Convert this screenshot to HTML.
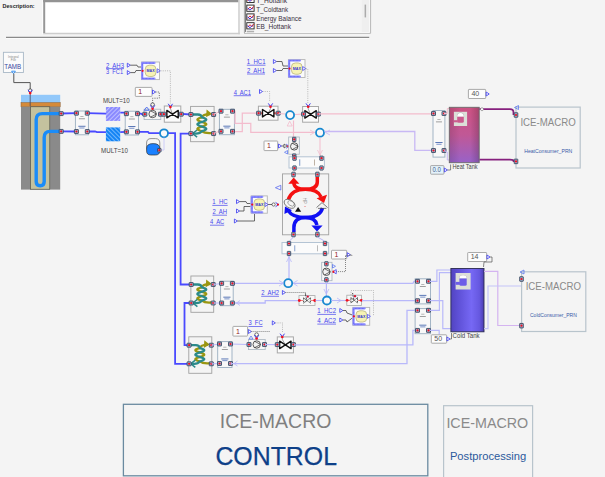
<!DOCTYPE html><html><head><meta charset="utf-8"><style>
html,body{margin:0;padding:0;background:#f4f4f4;}
body{width:605px;height:477px;overflow:hidden;position:relative;font-family:"Liberation Sans",sans-serif;}
svg{position:absolute;left:0;top:0;}
text{font-family:"Liberation Sans",sans-serif;white-space:pre;}
</style></head><body>
<svg width="605" height="477" viewBox="0 0 605 477">
<rect x="0" y="0" width="605" height="477" fill="#f4f4f4"/>
<text x="2.6" y="8.2" font-size="5.9" font-weight="bold" fill="#222" textLength="32" lengthAdjust="spacingAndGlyphs">Description:</text>
<rect x="43" y="-1" width="197" height="35" fill="#ffffff"/>
<path d="M42.5,0 L42.5,34" stroke="#fcfcfc" stroke-width="1"/>
<path d="M239,0 L239,34.2" stroke="#cdcdcd" stroke-width="1.5"/>
<path d="M43.2,33.5 L239.8,33.5" stroke="#cdcdcd" stroke-width="1.4"/>
<path d="M44.2,33 L44.2,0" stroke="#979797" stroke-width="2"/>
<path d="M43.2,1.1 L238.2,1.1" stroke="#939393" stroke-width="2.2"/>
<rect x="244" y="-1" width="126.5" height="34" fill="#f4f4f4"/>
<path d="M244.4,33 L244.4,-1" fill="none" stroke="#a8a8a8" stroke-width="1"/>
<path d="M245.5,32 L245.5,-1" fill="none" stroke="#707070" stroke-width="0.9"/>
<path d="M244,33.3 L370.6,33.3 L370.6,-1" fill="none" stroke="#b8b8b8" stroke-width="1"/>
<path d="M245.5,32.3 L369.5,32.3 L369.5,-1" fill="none" stroke="#fff" stroke-width="0.8"/>
<rect x="361.8" y="-1" width="7.5" height="33" fill="#efefef"/>
<rect x="364.6" y="4.6" width="1.5" height="12.8" fill="#ababab"/>
<rect x="246.8" y="-3.7" width="7.3" height="6.2" fill="#fff" stroke="#222" stroke-width="0.9"/>
<path d="M247.5,0.8 L250,-1.7 L252,0.3 L253.6,-2.5" fill="none" stroke="#e02020" stroke-width="1"/>
<path d="M247.5,-0.7 L250,1.3 L252.5,-1.1" fill="none" stroke="#2020d0" stroke-width="0.9"/>
<text x="256.2" y="2.9" font-size="7.4" fill="#3a3040" textLength="31" lengthAdjust="spacingAndGlyphs">T_Hottank</text>
<rect x="246.8" y="5.1" width="7.3" height="6.2" fill="#fff" stroke="#222" stroke-width="0.9"/>
<path d="M247.5,9.6 L250,7.1 L252,9.1 L253.6,6.3" fill="none" stroke="#e02020" stroke-width="1"/>
<path d="M247.5,8.1 L250,10.1 L252.5,7.7" fill="none" stroke="#2020d0" stroke-width="0.9"/>
<text x="256.2" y="11.7" font-size="7.4" fill="#3a3040" textLength="32" lengthAdjust="spacingAndGlyphs">T_Coldtank</text>
<rect x="246.8" y="13.9" width="7.3" height="6.2" fill="#fff" stroke="#222" stroke-width="0.9"/>
<path d="M247.5,18.4 L250,15.9 L252,17.9 L253.6,15.1" fill="none" stroke="#e02020" stroke-width="1"/>
<path d="M247.5,16.9 L250,18.9 L252.5,16.5" fill="none" stroke="#2020d0" stroke-width="0.9"/>
<text x="256.2" y="20.5" font-size="7.4" fill="#3a3040" textLength="45.3" lengthAdjust="spacingAndGlyphs">Energy Balance</text>
<rect x="246.8" y="22.7" width="7.3" height="6.2" fill="#fff" stroke="#222" stroke-width="0.9"/>
<path d="M247.5,27.2 L250,24.7 L252,26.7 L253.6,23.9" fill="none" stroke="#e02020" stroke-width="1"/>
<path d="M247.5,25.7 L250,27.7 L252.5,25.3" fill="none" stroke="#2020d0" stroke-width="0.9"/>
<text x="256.2" y="29.3" font-size="7.4" fill="#3a3040" textLength="34.7" lengthAdjust="spacingAndGlyphs">EB_Hottank</text>
<rect x="246.8" y="30.8" width="7.3" height="1.5" fill="#b0b0b0"/>
<path d="M6,37.3 L369.2,37.3" stroke="#8a8a8a" stroke-width="1.3"/>
<path d="M6,38.6 L369.2,38.6" stroke="#fcfcfc" stroke-width="0.8"/>
<rect x="3.4" y="52.3" width="20" height="20.2" fill="#fbfbfb" stroke="#a8b8c6" stroke-width="0.9"/>
<text x="13.4" y="57.6" font-size="3.2" fill="#888" text-anchor="middle">Integral</text>
<text x="13.4" y="60.8" font-size="3.2" fill="#888" text-anchor="middle">File</text>
<text x="4.3" y="68.7" font-size="7" fill="#3a48a0" textLength="16.9" lengthAdjust="spacingAndGlyphs">TAMB</text>
<path d="M11.6,71.2 L15.4,71.2 L13.5,73.6 Z" fill="#fff" stroke="#2a8af0" stroke-width="0.9"/>
<path d="M13.8,73.6 L13.8,82.6 L30.2,82.6 L30.2,89.5" fill="none" stroke="#555" stroke-width="1.0"/>
<rect x="21" y="94.8" width="39.2" height="8" fill="#92c8fa"/>
<rect x="21" y="102.6" width="39.2" height="4.2" fill="#d58a3a" stroke="#8a5a2a" stroke-width="0.5"/>
<rect x="21" y="106.8" width="39.2" height="82.8" fill="#8a8a8a"/>
<rect x="30.6" y="106.8" width="19.2" height="82.4" fill="#c4c29e" stroke="#4a4a40" stroke-width="0.6"/>
<path d="M30.2,91 L30.2,106" stroke="#445" stroke-width="0.8"/>
<circle cx="30.2" cy="90.6" r="1.7" fill="#fff" stroke="#333" stroke-width="0.7"/>
<path d="M28.0,89.8 L30.2,92.89999999999999 L32.4,89.8" fill="none" stroke="#3a3af0" stroke-width="1"/>
<circle cx="30.2" cy="93.1" r="1.3" fill="#f01020"/>
<path d="M60,113.6 L42.2,113.6 Q36.2,113.6 36.2,119.6 L36.2,181.6 Q36.2,185.8 40.2,185.8 Q44.2,185.8 44.2,181.6 L44.2,137.4 Q44.2,131.4 50.2,131.4 L60,131.4" fill="none" stroke="#1a8cf8" stroke-width="3.4"/>
<path d="M61,113.5 L76.4,113.2" fill="none" stroke="#4a4aff" stroke-width="1.8"/>
<path d="M61,131.4 L76.4,131.5" fill="none" stroke="#4a4aff" stroke-width="1.8"/>
<path d="M87.3,113.2 L106,113.6" fill="none" stroke="#4a4aff" stroke-width="1.8"/>
<path d="M87.3,131.5 L95,131.5 L97,132.2 L106,132.2" fill="none" stroke="#4a4aff" stroke-width="1.8"/>
<path d="M120.2,112.7 L124,112.7 L126.4,113.7" fill="none" stroke="#4a4aff" stroke-width="1.8"/>
<path d="M120.2,132.2 L126.4,131.8" fill="none" stroke="#4a4aff" stroke-width="1.8"/>
<path d="M137.5,113.7 L141,113.7 L144.5,115.5" fill="none" stroke="#4a4aff" stroke-width="1.8"/>
<path d="M160.5,114 L164.5,114" fill="none" stroke="#4a4aff" stroke-width="1.8"/>
<path d="M181.5,113.8 L190.8,114.5" fill="none" stroke="#4a4aff" stroke-width="1.8"/>
<path d="M137.5,131.8 L148,131.8 L149,133.2 L160,133.2" fill="none" stroke="#4a4aff" stroke-width="1.8"/>
<path d="M168,133.2 L175.1,133.2 L175.1,363.8 L189,363.8" fill="none" stroke="#4a4aff" stroke-width="1.8"/>
<path d="M190.8,133.6 L180.6,133.6 L180.6,284.5 L191,284.5" fill="none" stroke="#4a4aff" stroke-width="1.8"/>
<path d="M191,303 L184.5,303 L184.5,345.2 L189,345.2" fill="none" stroke="#4a4aff" stroke-width="1.8"/>
<rect x="59.20" y="111.65" width="4.0" height="3.9" rx="0.3" fill="#a4b6d2" stroke="#33415a" stroke-width="0.85"/>
<circle cx="61.20" cy="113.60" r="1.1" fill="#f01020"/>
<rect x="59.20" y="129.45" width="4.0" height="3.9" rx="0.3" fill="#a4b6d2" stroke="#33415a" stroke-width="0.85"/>
<circle cx="61.20" cy="131.40" r="1.1" fill="#f01020"/>
<rect x="75.4" y="111" width="13.0" height="23.80000000000001" fill="#f8f8f8" stroke="#9aaec0" stroke-width="0.9"/>
<rect x="80.30000000000001" y="116.20" width="3.2" height="0.7" fill="#999"/>
<rect x="78.9" y="118.40" width="6" height="0.8" fill="#888"/>
<rect x="78.30000000000001" y="125.80" width="7.2" height="0.9" fill="#4a6ab0"/>
<rect x="79.30000000000001" y="127.60" width="5.2" height="0.8" fill="#5a7ac0"/>
<rect x="74.40" y="111.25" width="4.0" height="3.9" rx="0.3" fill="#a4b6d2" stroke="#33415a" stroke-width="0.85"/>
<circle cx="76.40" cy="113.20" r="1.1" fill="#f01020"/>
<rect x="85.30" y="111.25" width="4.0" height="3.9" rx="0.3" fill="#a4b6d2" stroke="#33415a" stroke-width="0.85"/>
<circle cx="87.30" cy="113.20" r="1.1" fill="#f01020"/>
<rect x="74.40" y="129.55" width="4.0" height="3.9" rx="0.3" fill="#a4b6d2" stroke="#33415a" stroke-width="0.85"/>
<circle cx="76.40" cy="131.50" r="1.1" fill="#f01020"/>
<rect x="85.30" y="129.55" width="4.0" height="3.9" rx="0.3" fill="#a4b6d2" stroke="#33415a" stroke-width="0.85"/>
<circle cx="87.30" cy="131.50" r="1.1" fill="#f01020"/>
<defs><pattern id="h1" width="3" height="3" patternUnits="userSpaceOnUse" patternTransform="rotate(-45)"><rect width="3" height="3" fill="#8a8aff"/><rect width="3" height="0.9" fill="#c4c4ff"/></pattern>
<pattern id="h2" width="3" height="3" patternUnits="userSpaceOnUse" patternTransform="rotate(45)"><rect width="3" height="3" fill="#1484f4"/><rect width="3" height="0.9" fill="#7cbcff"/></pattern></defs>
<rect x="105.9" y="107" width="14.3" height="13.9" fill="url(#h1)"/>
<rect x="105.9" y="127.4" width="14.3" height="13.9" fill="url(#h2)"/>
<text x="102.9" y="102.9" font-size="6.8" fill="#444" textLength="26.8" lengthAdjust="spacingAndGlyphs">MULT=10</text>
<text x="101.1" y="153" font-size="6.8" fill="#444" textLength="26.9" lengthAdjust="spacingAndGlyphs">MULT=10</text>
<rect x="125.2" y="111.2" width="13.299999999999997" height="23.799999999999997" fill="#f8f8f8" stroke="#9aaec0" stroke-width="0.9"/>
<rect x="130.25" y="116.40" width="3.2" height="0.7" fill="#999"/>
<rect x="128.85" y="118.60" width="6" height="0.8" fill="#888"/>
<rect x="128.25" y="126.00" width="7.2" height="0.9" fill="#4a6ab0"/>
<rect x="129.25" y="127.80" width="5.2" height="0.8" fill="#5a7ac0"/>
<rect x="124.40" y="111.75" width="4.0" height="3.9" rx="0.3" fill="#a4b6d2" stroke="#33415a" stroke-width="0.85"/>
<circle cx="126.40" cy="113.70" r="1.1" fill="#f01020"/>
<rect x="135.50" y="111.75" width="4.0" height="3.9" rx="0.3" fill="#a4b6d2" stroke="#33415a" stroke-width="0.85"/>
<circle cx="137.50" cy="113.70" r="1.1" fill="#f01020"/>
<rect x="124.40" y="129.85" width="4.0" height="3.9" rx="0.3" fill="#a4b6d2" stroke="#33415a" stroke-width="0.85"/>
<circle cx="126.40" cy="131.80" r="1.1" fill="#f01020"/>
<rect x="135.50" y="129.85" width="4.0" height="3.9" rx="0.3" fill="#a4b6d2" stroke="#33415a" stroke-width="0.85"/>
<circle cx="137.50" cy="131.80" r="1.1" fill="#f01020"/>
<text x="106" y="67.5" font-size="6.6" fill="#4646ee" text-anchor="start" textLength="18" lengthAdjust="spacingAndGlyphs">2  AH3</text>
<path d="M106,68.60 L124,68.60" stroke="#4646ee" stroke-width="0.7"/>
<text x="106" y="74.4" font-size="6.6" fill="#4646ee" text-anchor="start" textLength="17.1" lengthAdjust="spacingAndGlyphs">3  FC1</text>
<path d="M127.3,63.2 L130.3,65.2 L127.3,67.2 Z" fill="#fff" stroke="#4a4af0" stroke-width="0.9"/>
<path d="M127.3,70.6 L130.3,72.6 L127.3,74.6 Z" fill="#fff" stroke="#4a4af0" stroke-width="0.9"/>
<path d="M130.3,65.2 L137,65.2 L138,67 L141,67" fill="none" stroke="#444" stroke-width="0.8"/>
<path d="M130.3,72.6 L135,72.6 L136,70.5 L141,70.5" fill="none" stroke="#444" stroke-width="0.8"/>
<rect x="141.5" y="62.0" width="18" height="17.6" fill="#fbfbfb" stroke="#b4b4b4" stroke-width="0.9"/>
<path d="M154.5,62.900000000000006 L142.2,62.900000000000006 L142.2,78.7 L154.5,78.7" fill="none" stroke="#9090ff" stroke-width="2.2" stroke-linecap="round" stroke-linejoin="round"/>
<path d="M154,63.1 L142.4,63.1 L142.4,78.5 L154,78.5" fill="none" stroke="#3434e8" stroke-width="0.5" stroke-dasharray="0.8,0.6"/>
<rect x="145.2" y="65.20000000000002" width="10.8" height="11.3" rx="4" fill="#f7f3b4" stroke="#b0ac78" stroke-width="0.7"/>
<text x="150.6" y="72.4" font-size="4" fill="#3030d0" text-anchor="middle" font-weight="bold" textLength="8" lengthAdjust="spacingAndGlyphs">MAX</text>
<circle cx="142.6" cy="70.80000000000001" r="1.1" fill="#f01020"/>
<path d="M157.2,68.80000000000001 L160.2,70.80000000000001 L157.2,72.80000000000001 Z" fill="#fff" stroke="#5a5af0" stroke-width="0.9"/>
<path d="M160.5,70.8 L170.4,70.8 L170.4,103.5" fill="none" stroke="#aaa" stroke-width="0.8" stroke-dasharray="1,1.2"/>
<rect x="135.3" y="87.4" width="16.69999999999999" height="9.0" rx="0.6" fill="#fdfdfd" stroke="#a0a0a0" stroke-width="0.9"/>
<text x="138.3" y="94.10000000000001" font-size="7" fill="#902020">1</text>
<path d="M152.5,90 L155.5,92 L152.5,94 Z" fill="#fff" stroke="#4a4af0" stroke-width="0.9"/>
<path d="M155.5,92 L159.3,92 L159.3,98.2 L152.6,98.2 L152.6,102.8" fill="none" stroke="#444" stroke-width="0.8" stroke-dasharray="1,1.3"/>
<rect x="144.1" y="109.2" width="16.700000000000017" height="10.399999999999991" fill="#f6f6f6" stroke="#a8b4c0" stroke-width="0.8"/>
<circle cx="152.6" cy="114" r="3.7" fill="#f2f2f2" stroke="#333" stroke-width="0.8"/>
<path d="M150.6,110.8 L156.4,114 L150.6,117.2" fill="none" stroke="#333" stroke-width="0.7"/>
<rect x="142.80" y="112.25" width="4.0" height="3.9" rx="0.3" fill="#a4b6d2" stroke="#33415a" stroke-width="0.85"/>
<circle cx="144.80" cy="114.20" r="1.1" fill="#f01020"/>
<rect x="158.50" y="112.25" width="4.0" height="3.9" rx="0.3" fill="#a4b6d2" stroke="#33415a" stroke-width="0.85"/>
<circle cx="160.50" cy="114.20" r="1.1" fill="#f01020"/>
<path d="M144.2,110.3 L146.7,107 L149.3,110.3 Z" fill="none" stroke="#4a6af0" stroke-width="0.9"/>
<circle cx="152.6" cy="104.6" r="1.8" fill="none" stroke="#333" stroke-width="0.7"/>
<path d="M150.4,105.4 L152.6,108.5 L154.79999999999998,105.4" fill="none" stroke="#3a3af0" stroke-width="1"/>
<circle cx="152.6" cy="108.7" r="1.3" fill="#f01020"/>
<rect x="164.3" y="106" width="16.5" height="16.200000000000003" fill="#fbfbfb" stroke="#a8a8a8" stroke-width="1"/>
<path d="M165.10000000000002,114.1 L167.05,114.1 M178.05,114.1 L180.0,114.1" stroke="#f06060" stroke-width="2"/>
<path d="M170.4,106 L170.4,108.5 L172.55,114.1" fill="none" stroke="#666" stroke-width="0.6"/>
<path d="M166.85000000000002,110.39999999999999 L178.25,117.8 L178.25,110.39999999999999 L166.85000000000002,117.8 Z" fill="#fff" stroke="#111" stroke-width="1.4" stroke-linejoin="round"/>
<circle cx="172.55" cy="114.1" r="1" fill="#111"/>
<rect x="161.90" y="112.25" width="4.0" height="3.9" rx="0.3" fill="#a4b6d2" stroke="#33415a" stroke-width="0.85"/>
<circle cx="163.90" cy="114.20" r="1.1" fill="#f01020"/>
<rect x="179.20" y="112.25" width="4.0" height="3.9" rx="0.3" fill="#a4b6d2" stroke="#33415a" stroke-width="0.85"/>
<circle cx="181.20" cy="114.20" r="1.1" fill="#f01020"/>
<path d="M168.20000000000002,103.8 L170.4,106.89999999999999 L172.6,103.8" fill="none" stroke="#3a3af0" stroke-width="1"/>
<circle cx="170.4" cy="107.1" r="1.3" fill="#f01020"/>
<circle cx="164" cy="133.3" r="4.0" fill="#fafafa" stroke="#1888d0" stroke-width="1.8"/>
<path d="M164,137.5 L164,150 L159.5,150" fill="none" stroke="#c8c8f8" stroke-width="0.9"/>
<path d="M146.6,149 L146.6,143 Q146.6,138.6 151,138.6 L155.4,138.6 Q159.8,138.6 159.8,143 L159.8,149 Z" fill="#f6f6f6" stroke="#777" stroke-width="0.8"/>
<path d="M146.6,148.5 Q146.6,143.6 153.2,143.6 Q159.8,143.6 159.8,148.5 L159.8,151 Q159.8,155 155.4,155 L151,155 Q146.6,155 146.6,151 Z" fill="#1a80ff" stroke="#333" stroke-width="0.7"/>
<rect x="157.55" y="148.45" width="3.5" height="3.5" rx="0.3" fill="#a4b6d2" stroke="#33415a" stroke-width="0.85"/>
<circle cx="159.30" cy="150.20" r="1.1" fill="#f01020"/>
<rect x="190.6" y="106.4" width="23.5" height="35.29999999999998" fill="#f4f4f4" stroke="#a0a0a0" stroke-width="0.9"/>
<path d="M211.6,133.1 Q204.85,133.6 201.85,131.20 L200.82,130.85 L199.85,130.50 L198.99,130.16 L198.29,129.81 L197.78,129.46 L197.50,129.11 L197.46,128.77 L197.67,128.42 L198.10,128.07 L198.74,127.72 L199.55,127.38 L200.49,127.03 L201.50,126.68 L202.54,126.33 L203.53,125.99 L204.44,125.64 L205.20,125.29 L205.77,124.94 L206.13,124.60 L206.25,124.25 L206.13,123.90 L205.77,123.55 L205.20,123.21 L204.44,122.86 L203.53,122.51 L202.54,122.16 L201.50,121.82 L200.49,121.47 L199.55,121.12 L198.74,120.77 L198.10,120.43 L197.67,120.08 L197.46,119.73 L197.50,119.38 L197.78,119.04 L198.29,118.69 L198.99,118.34 L199.85,117.99 L200.82,117.65 L201.85,117.30 Q202.85,114.5 209.6,114.0" fill="none" stroke="#9a9610" stroke-width="2.3" stroke-linecap="round"/>
<path d="M206.6,109.5 L211.9,113.7 L206.1,117.3 Z" fill="#9a9610"/>
<path d="M192.1,114.5 L197.85,114.5 Q201.35,114.5 201.85,117.30 L202.88,117.65 L203.85,117.99 L204.71,118.34 L205.41,118.69 L205.92,119.04 L206.20,119.38 L206.24,119.73 L206.03,120.08 L205.60,120.43 L204.96,120.77 L204.15,121.12 L203.21,121.47 L202.20,121.82 L201.16,122.16 L200.17,122.51 L199.26,122.86 L198.50,123.21 L197.93,123.55 L197.57,123.90 L197.45,124.25 L197.57,124.60 L197.93,124.94 L198.50,125.29 L199.26,125.64 L200.17,125.99 L201.16,126.33 L202.20,126.68 L203.21,127.03 L204.15,127.38 L204.96,127.72 L205.60,128.07 L206.03,128.42 L206.24,128.77 L206.20,129.11 L205.92,129.46 L205.41,129.81 L204.71,130.16 L203.85,130.50 L202.88,130.85 L201.85,131.20 Q199.85,134.1 194.6,133.6" fill="none" stroke="#2a8a8a" stroke-width="2.3" stroke-linecap="round"/>
<path d="M197.1,130.0 L192.6,133.6 L197.1,137.2" fill="none" stroke="#2a8a8a" stroke-width="1.5"/>
<rect x="188.90" y="112.55" width="4.0" height="3.9" rx="0.3" fill="#a4b6d2" stroke="#33415a" stroke-width="0.85"/>
<circle cx="190.90" cy="114.50" r="1.1" fill="#f01020"/>
<rect x="188.90" y="131.65" width="4.0" height="3.9" rx="0.3" fill="#a4b6d2" stroke="#33415a" stroke-width="0.85"/>
<circle cx="190.90" cy="133.60" r="1.1" fill="#f01020"/>
<rect x="211.60" y="112.55" width="4.0" height="3.9" rx="0.3" fill="#a4b6d2" stroke="#33415a" stroke-width="0.85"/>
<circle cx="213.60" cy="114.50" r="1.1" fill="#f01020"/>
<rect x="211.60" y="131.65" width="4.0" height="3.9" rx="0.3" fill="#a4b6d2" stroke="#33415a" stroke-width="0.85"/>
<circle cx="213.60" cy="133.60" r="1.1" fill="#f01020"/>
<rect x="219.4" y="109.3" width="15.0" height="25.39999999999999" fill="#f8f8f8" stroke="#9aaec0" stroke-width="0.9"/>
<rect x="225.3" y="114.50" width="3.2" height="0.7" fill="#999"/>
<rect x="223.9" y="116.70" width="6" height="0.8" fill="#888"/>
<rect x="223.3" y="125.70" width="7.2" height="0.9" fill="#4a6ab0"/>
<rect x="224.3" y="127.50" width="5.2" height="0.8" fill="#5a7ac0"/>
<path d="M213.6,114.5 L219.5,111.5" fill="none" stroke="#f3bccd" stroke-width="1.0"/>
<path d="M213.6,133.6 L219.5,131" fill="none" stroke="#f3bccd" stroke-width="1.0"/>
<path d="M232.5,111.2 L235.1,111.2 L235.1,123.3 L250.8,123.3 L250.8,132.3 L315,132.3" fill="none" stroke="#f3bccd" stroke-width="1.25"/>
<path d="M232.5,131.5 L242.3,131.5 L242.3,113.2 L257.5,113.2" fill="none" stroke="#f3bccd" stroke-width="1.25"/>
<rect x="219.00" y="109.25" width="4.0" height="3.9" rx="0.3" fill="#a4b6d2" stroke="#33415a" stroke-width="0.85"/>
<circle cx="221.00" cy="111.20" r="1.1" fill="#f01020"/>
<rect x="230.50" y="109.25" width="4.0" height="3.9" rx="0.3" fill="#a4b6d2" stroke="#33415a" stroke-width="0.85"/>
<circle cx="232.50" cy="111.20" r="1.1" fill="#f01020"/>
<rect x="219.00" y="129.35" width="4.0" height="3.9" rx="0.3" fill="#a4b6d2" stroke="#33415a" stroke-width="0.85"/>
<circle cx="221.00" cy="131.30" r="1.1" fill="#f01020"/>
<rect x="230.50" y="129.35" width="4.0" height="3.9" rx="0.3" fill="#a4b6d2" stroke="#33415a" stroke-width="0.85"/>
<circle cx="232.50" cy="131.30" r="1.1" fill="#f01020"/>
<rect x="258.4" y="106.2" width="19.600000000000023" height="14.0" fill="#fbfbfb" stroke="#a8a8a8" stroke-width="1"/>
<path d="M259.2,113.2 L262.7,113.2 M273.7,113.2 L277.2,113.2" stroke="#f06060" stroke-width="2"/>
<path d="M270.5,106.2 L270.5,108.7 L268.2,113.2" fill="none" stroke="#666" stroke-width="0.6"/>
<path d="M262.5,109.5 L273.9,116.9 L273.9,109.5 L262.5,116.9 Z" fill="#fff" stroke="#111" stroke-width="1.4" stroke-linejoin="round"/>
<circle cx="268.2" cy="113.2" r="1" fill="#111"/>
<rect x="256.60" y="111.25" width="4.0" height="3.9" rx="0.3" fill="#a4b6d2" stroke="#33415a" stroke-width="0.85"/>
<circle cx="258.60" cy="113.20" r="1.1" fill="#f01020"/>
<rect x="276.20" y="111.25" width="4.0" height="3.9" rx="0.3" fill="#a4b6d2" stroke="#33415a" stroke-width="0.85"/>
<circle cx="278.20" cy="113.20" r="1.1" fill="#f01020"/>
<path d="M268.3,103.4 L270.5,106.5 L272.7,103.4" fill="none" stroke="#3a3af0" stroke-width="1"/>
<circle cx="270.5" cy="106.7" r="1.3" fill="#f01020"/>
<path d="M262.5,91.5 L269.6,91.5 L269.6,102" fill="none" stroke="#aaa" stroke-width="0.8" stroke-dasharray="1,1.2"/>
<text x="233.7" y="94.6" font-size="6.6" fill="#4646ee" text-anchor="start" textLength="17.3" lengthAdjust="spacingAndGlyphs">4  AC1</text>
<path d="M233.7,95.70 L251.0,95.70" stroke="#4646ee" stroke-width="0.7"/>
<path d="M259.5,89.5 L262.5,91.5 L259.5,93.5 Z" fill="#fff" stroke="#4a4af0" stroke-width="0.9"/>
<text x="246.8" y="64.1" font-size="6.6" fill="#4646ee" text-anchor="start" textLength="18.7" lengthAdjust="spacingAndGlyphs">1  HC1</text>
<path d="M246.8,65.20 L265.5,65.20" stroke="#4646ee" stroke-width="0.7"/>
<text x="247" y="72.9" font-size="6.6" fill="#4646ee" text-anchor="start" textLength="18" lengthAdjust="spacingAndGlyphs">2  AH1</text>
<path d="M247,74.00 L265,74.00" stroke="#4646ee" stroke-width="0.7"/>
<path d="M273.4,59.5 L276.4,61.5 L273.4,63.5 Z" fill="#fff" stroke="#4a4af0" stroke-width="0.9"/>
<path d="M273.4,68.5 L276.4,70.5 L273.4,72.5 Z" fill="#fff" stroke="#4a4af0" stroke-width="0.9"/>
<path d="M276.4,61.5 L282,61.5 L283,66 L288,66" fill="none" stroke="#444" stroke-width="0.8"/>
<path d="M276.4,70.5 L282,70.5 L283,68.5 L288,68.5" fill="none" stroke="#444" stroke-width="0.8"/>
<rect x="288.4" y="59.599999999999994" width="16.600000000000023" height="17.9" fill="#fbfbfb" stroke="#b4b4b4" stroke-width="0.9"/>
<path d="M300.0,60.5 L289.09999999999997,60.5 L289.09999999999997,76.6 L300.0,76.6" fill="none" stroke="#9090ff" stroke-width="2.2" stroke-linecap="round" stroke-linejoin="round"/>
<path d="M299.5,60.699999999999996 L289.29999999999995,60.699999999999996 L289.29999999999995,76.39999999999999 L299.5,76.39999999999999" fill="none" stroke="#3434e8" stroke-width="0.5" stroke-dasharray="0.8,0.6"/>
<rect x="291.40000000000003" y="62.949999999999996" width="10.8" height="11.3" rx="4" fill="#f7f3b4" stroke="#b0ac78" stroke-width="0.7"/>
<text x="296.8" y="70.14999999999999" font-size="4" fill="#3030d0" text-anchor="middle" font-weight="bold" textLength="8" lengthAdjust="spacingAndGlyphs">MAX</text>
<circle cx="289.5" cy="68.55" r="1.1" fill="#f01020"/>
<path d="M302.7,66.55 L305.7,68.55 L302.7,70.55 Z" fill="#fff" stroke="#5a5af0" stroke-width="0.9"/>
<path d="M306,68.8 L307.8,68.8 L307.8,103" fill="none" stroke="#aaa" stroke-width="0.8" stroke-dasharray="1,1.2"/>
<path d="M278.5,113.5 L285,114" fill="none" stroke="#f3bccd" stroke-width="1.2"/>
<path d="M295,114.5 L302.5,114.2" fill="none" stroke="#f3bccd" stroke-width="1.2"/>
<circle cx="290.1" cy="115.1" r="4.0" fill="#fafafa" stroke="#1888d0" stroke-width="1.8"/>
<path d="M293.5,120.5 L293.5,137.5" fill="none" stroke="#f3bccd" stroke-width="1.2"/>
<path d="M287.2,126 L289.7,121.2 L292.2,126 Z" fill="none" stroke="#f3bccd" stroke-width="0.8"/>
<rect x="302.6" y="106.5" width="15.899999999999977" height="15.700000000000003" fill="#fbfbfb" stroke="#a8a8a8" stroke-width="1"/>
<path d="M303.40000000000003,114.35 L305.05,114.35 M316.05,114.35 L317.7,114.35" stroke="#f06060" stroke-width="2"/>
<path d="M308.2,106.5 L308.2,109.0 L310.55,114.35" fill="none" stroke="#666" stroke-width="0.6"/>
<path d="M304.85,110.64999999999999 L316.25,118.05 L316.25,110.64999999999999 L304.85,118.05 Z" fill="#fff" stroke="#111" stroke-width="1.4" stroke-linejoin="round"/>
<circle cx="310.55" cy="114.35" r="1" fill="#111"/>
<rect x="301.60" y="112.15" width="4.0" height="3.9" rx="0.3" fill="#a4b6d2" stroke="#33415a" stroke-width="0.85"/>
<circle cx="303.60" cy="114.10" r="1.1" fill="#f01020"/>
<rect x="316.40" y="112.15" width="4.0" height="3.9" rx="0.3" fill="#a4b6d2" stroke="#33415a" stroke-width="0.85"/>
<circle cx="318.40" cy="114.10" r="1.1" fill="#f01020"/>
<path d="M306.0,103.4 L308.2,106.5 L310.4,103.4" fill="none" stroke="#3a3af0" stroke-width="1"/>
<circle cx="308.2" cy="106.7" r="1.3" fill="#f01020"/>
<path d="M318.5,113.8 L433.5,113.8" fill="none" stroke="#f3bccd" stroke-width="1.3"/>
<circle cx="320" cy="132.7" r="4.0" fill="#fafafa" stroke="#1888d0" stroke-width="1.8"/>
<path d="M310,130 L314.5,132.5 L310,135" fill="none" stroke="#f3bccd" stroke-width="0.8"/>
<path d="M330,130 L325.5,132.5 L330,135" fill="none" stroke="#c8b8f4" stroke-width="0.8"/>
<path d="M324.5,131.5 L414.8,131.5 L414.8,150.4 L433.5,150.4" fill="none" stroke="#c8b8f4" stroke-width="1.3"/>
<path d="M320,137.5 L320,156.5" fill="none" stroke="#f3bccd" stroke-width="1.0"/>
<path d="M317.5,150 L320,155 L322.5,150" fill="none" stroke="#f3bccd" stroke-width="0.8"/>
<rect x="264" y="141" width="13.699999999999989" height="9.599999999999994" rx="0.6" fill="#fdfdfd" stroke="#a0a0a0" stroke-width="0.9"/>
<text x="267" y="148.29999999999998" font-size="7" fill="#902020">1</text>
<path d="M278.5,144 L281.5,146 L278.5,148 Z" fill="#fff" stroke="#4a4af0" stroke-width="0.9"/>
<path d="M281.5,146 L284,146" fill="none" stroke="#333" stroke-width="0.7"/>
<path d="M284,144 L287,146 L284,148 Z" fill="#fff" stroke="#222" stroke-width="0.6"/>
<path d="M286.3,144.2 L288.6,146.2 L286.3,148.2" fill="none" stroke="#3a3af0" stroke-width="0.9"/><circle cx="288.2" cy="146.3" r="1.1" fill="#f01020"/>
<rect x="288.7" y="137" width="10.600000000000023" height="17.19999999999999" fill="#f6f6f6" stroke="#a8b4c0" stroke-width="0.8"/>
<circle cx="294.2" cy="146.4" r="3.7" fill="#f2f2f2" stroke="#333" stroke-width="0.8"/>
<path d="M292.2,143.20000000000002 L298.0,146.4 L292.2,149.6" fill="none" stroke="#333" stroke-width="0.7"/>
<rect x="292.50" y="137.30" width="3.4" height="4.2" rx="0.3" fill="#a4b6d2" stroke="#33415a" stroke-width="0.85"/>
<circle cx="294.20" cy="139.40" r="1.1" fill="#f01020"/>
<rect x="292.50" y="153.90" width="3.4" height="4.2" rx="0.3" fill="#a4b6d2" stroke="#33415a" stroke-width="0.85"/>
<circle cx="294.20" cy="156.00" r="1.1" fill="#f01020"/>
<path d="M287.5,150.5 L284.5,152.3 L287.5,154 Z" fill="none" stroke="#4a6af0" stroke-width="0.7"/>
<rect x="289" y="156.8" width="35.4" height="11.2" fill="#fbfbfb" stroke="#b4c4d4" stroke-width="1"/>
<rect x="299.3" y="159.3" width="0.9" height="6.5" fill="#6a8ac0"/><rect x="314" y="159.5" width="0.8" height="6" fill="#b0a090"/>
<rect x="292.80" y="156.10" width="3.4" height="4.2" rx="0.3" fill="#a4b6d2" stroke="#33415a" stroke-width="0.85"/>
<circle cx="294.50" cy="158.20" r="1.1" fill="#f01020"/>
<rect x="319.80" y="156.10" width="3.4" height="4.2" rx="0.3" fill="#a4b6d2" stroke="#33415a" stroke-width="0.85"/>
<circle cx="321.50" cy="158.20" r="1.1" fill="#f01020"/>
<rect x="292.80" y="165.90" width="3.4" height="4.2" rx="0.3" fill="#a4b6d2" stroke="#33415a" stroke-width="0.85"/>
<circle cx="294.50" cy="168.00" r="1.1" fill="#f01020"/>
<rect x="319.80" y="165.90" width="3.4" height="4.2" rx="0.3" fill="#a4b6d2" stroke="#33415a" stroke-width="0.85"/>
<circle cx="321.50" cy="168.00" r="1.1" fill="#f01020"/>
<rect x="282.5" y="173.9" width="46.2" height="60.9" fill="#f4f4f4" stroke="#a0a0a0" stroke-width="0.9"/>
<rect x="291.80" y="172.20" width="3.4" height="4.6" rx="0.3" fill="#a4b6d2" stroke="#33415a" stroke-width="0.85"/>
<circle cx="293.50" cy="174.50" r="1.1" fill="#f01020"/>
<rect x="315.70" y="172.20" width="3.4" height="4.6" rx="0.3" fill="#a4b6d2" stroke="#33415a" stroke-width="0.85"/>
<circle cx="317.40" cy="174.50" r="1.1" fill="#f01020"/>
<rect x="291.80" y="232.20" width="3.4" height="4.6" rx="0.3" fill="#a4b6d2" stroke="#33415a" stroke-width="0.85"/>
<circle cx="293.50" cy="234.50" r="1.1" fill="#f01020"/>
<rect x="315.70" y="232.20" width="3.4" height="4.6" rx="0.3" fill="#a4b6d2" stroke="#33415a" stroke-width="0.85"/>
<circle cx="317.40" cy="234.50" r="1.1" fill="#f01020"/>
<path d="M317.3,177 L317.3,182 Q317.3,189.2 305.5,189.3 Q294,189.4 293.8,182.5" fill="none" stroke="#f41010" stroke-width="3.5"/>
<path d="M288.3,183.8 L293.7,177.6 L299.4,183.8 Z" fill="#f41010"/>
<path d="M288.2,200 Q291.5,189.3 305.5,189.3 Q318,189.3 321,197" fill="none" stroke="#f41010" stroke-width="3.5"/>
<path d="M316.6,198.2 L324,203 L327,194.8 Z" fill="#f41010"/>
<path d="M322.5,208 Q320,217.5 305.5,217.5 Q292.5,217.5 288.6,211.2" fill="none" stroke="#1010f4" stroke-width="3.5"/>
<path d="M285,206.4 L284.4,214 L292,210.2 Z" fill="#1010f4"/>
<path d="M293.9,232 L293.9,227.5 Q293.9,217.6 305.5,217.5 Q315.5,217.5 316.9,225" fill="none" stroke="#1010f4" stroke-width="3.5"/>
<path d="M311.4,225.4 L322.6,225.4 L317,231.6 Z" fill="#1010f4"/>
<ellipse cx="289.6" cy="203.8" rx="6" ry="3.8" transform="rotate(32 289.6 203.8)" fill="#f6f6f6" stroke="#555" stroke-width="0.7"/>
<ellipse cx="291" cy="203.4" rx="3.6" ry="2.2" transform="rotate(32 291 203.4)" fill="none" stroke="#777" stroke-width="0.6"/>
<path d="M295,211.8 L298.1,207 L301.2,211.8 Z" fill="#111"/>
<path d="M316.5,207.6 L322,202.6 L327.6,207.6 M318,208.4 L326.4,208.4" fill="none" stroke="#444" stroke-width="0.7"/>
<text x="0" y="0" font-size="4.6" fill="#8a8a8a" transform="translate(303,197.4) rotate(90)">HP</text>
<circle cx="305" cy="206.5" r="0.5" fill="#e05050"/>
<path d="M280.8,185.3 L275.4,187.7 L280.8,190 Z" fill="none" stroke="#5a6af0" stroke-width="0.8"/>
<path d="M268,204.5 L272,204.5" stroke="#333" stroke-width="0.7"/>
<circle cx="273.6" cy="204.5" r="1.6" fill="#fff" stroke="#222" stroke-width="0.6"/>
<path d="M275.6,202.4 L278.4,204.6 L275.6,206.7" fill="none" stroke="#3a3af0" stroke-width="1"/><circle cx="278" cy="204.6" r="1.1" fill="#f01020"/>
<text x="212.3" y="204.3" font-size="6.6" fill="#4646ee" text-anchor="start" textLength="15.4" lengthAdjust="spacingAndGlyphs">1  HC</text>
<path d="M212.3,205.40 L227.70000000000002,205.40" stroke="#4646ee" stroke-width="0.7"/>
<text x="212.5" y="214.1" font-size="6.6" fill="#4646ee" text-anchor="start" textLength="14.5" lengthAdjust="spacingAndGlyphs">2  AH</text>
<path d="M212.5,215.20 L227.0,215.20" stroke="#4646ee" stroke-width="0.7"/>
<text x="210" y="224.1" font-size="6.6" fill="#4646ee" text-anchor="start" textLength="14.2" lengthAdjust="spacingAndGlyphs">4  AC</text>
<path d="M210,225.20 L224.2,225.20" stroke="#4646ee" stroke-width="0.7"/>
<path d="M236.5,199.6 L239.5,201.6 L236.5,203.6 Z" fill="#fff" stroke="#4a4af0" stroke-width="0.9"/>
<path d="M236.5,209 L239.5,211 L236.5,213 Z" fill="#fff" stroke="#4a4af0" stroke-width="0.9"/>
<path d="M234.4,219 L237.4,221 L234.4,223 Z" fill="#fff" stroke="#4a4af0" stroke-width="0.9"/>
<path d="M239.5,201.6 L246,201.6 L247,203.5 L250.5,203.5" fill="none" stroke="#444" stroke-width="0.8"/>
<path d="M239.5,211 L244,211 L244,206.5 L250.5,206.5" fill="none" stroke="#444" stroke-width="0.8"/>
<path d="M237.4,221 L254.5,221 L254.5,214" fill="none" stroke="#444" stroke-width="0.8"/>
<rect x="251.1" y="195.9" width="16.200000000000017" height="17.300000000000004" fill="#fbfbfb" stroke="#b4b4b4" stroke-width="0.9"/>
<path d="M262.3,196.79999999999998 L251.79999999999998,196.79999999999998 L251.79999999999998,212.3 L262.3,212.3" fill="none" stroke="#9090ff" stroke-width="2.2" stroke-linecap="round" stroke-linejoin="round"/>
<path d="M261.8,197.0 L252.0,197.0 L252.0,212.1 L261.8,212.1" fill="none" stroke="#3434e8" stroke-width="0.5" stroke-dasharray="0.8,0.6"/>
<rect x="253.9" y="198.95000000000002" width="10.8" height="11.3" rx="4" fill="#f7f3b4" stroke="#b0ac78" stroke-width="0.7"/>
<text x="259.3" y="206.15" font-size="4" fill="#3030d0" text-anchor="middle" font-weight="bold" textLength="8" lengthAdjust="spacingAndGlyphs">MAX</text>
<circle cx="252.2" cy="204.55" r="1.1" fill="#f01020"/>
<path d="M265.0,202.55 L268.0,204.55 L265.0,206.55 Z" fill="#fff" stroke="#5a5af0" stroke-width="0.9"/>
<rect x="282" y="242.5" width="46.6" height="11.3" fill="#fbfbfb" stroke="#b4c4d4" stroke-width="1"/>
<rect x="294.4" y="245.3" width="0.8" height="6" fill="#6a8ac0"/><rect x="317.2" y="245.3" width="0.8" height="6" fill="#aaa"/>
<rect x="287.30" y="241.40" width="3.4" height="4.2" rx="0.3" fill="#a4b6d2" stroke="#33415a" stroke-width="0.85"/>
<circle cx="289.00" cy="243.50" r="1.1" fill="#f01020"/>
<rect x="323.30" y="241.40" width="3.4" height="4.2" rx="0.3" fill="#a4b6d2" stroke="#33415a" stroke-width="0.85"/>
<circle cx="325.00" cy="243.50" r="1.1" fill="#f01020"/>
<rect x="287.30" y="251.40" width="3.4" height="4.2" rx="0.3" fill="#a4b6d2" stroke="#33415a" stroke-width="0.85"/>
<circle cx="289.00" cy="253.50" r="1.1" fill="#f01020"/>
<rect x="323.30" y="251.40" width="3.4" height="4.2" rx="0.3" fill="#a4b6d2" stroke="#33415a" stroke-width="0.85"/>
<circle cx="325.00" cy="253.50" r="1.1" fill="#f01020"/>
<path d="M293.5,237 L289.5,241" fill="none" stroke="#b8b8fa" stroke-width="1.0"/>
<path d="M317.4,237 L324.5,241" fill="none" stroke="#b8b8fa" stroke-width="1.0"/>
<rect x="331.5" y="250.3" width="15.199999999999989" height="8.699999999999989" rx="0.6" fill="#fdfdfd" stroke="#a0a0a0" stroke-width="0.9"/>
<text x="334.5" y="256.7" font-size="7" fill="#902020">1</text>
<path d="M347.3,252.7 L350.3,254.7 L347.3,256.7 Z" fill="#fff" stroke="#4a4af0" stroke-width="0.9"/>
<path d="M350.3,254.7 L352,254.7 L352,255.5 L345.5,255.5" fill="none" stroke="#555" stroke-width="0.7" stroke-dasharray="1,1"/>
<path d="M345.5,256 L345.5,271.6 L336,271.6" fill="none" stroke="#555" stroke-width="0.7" stroke-dasharray="1,1"/>
<path d="M336.2,269.6 L333,271.7 L336.2,273.8 Z" fill="#fff" stroke="#3a3af0" stroke-width="0.8"/><circle cx="333.2" cy="271.7" r="1.2" fill="#f01020"/>
<rect x="321.7" y="262.3" width="10.300000000000011" height="18.399999999999977" fill="#f6f6f6" stroke="#a8b4c0" stroke-width="0.8"/>
<circle cx="326.4" cy="271.8" r="3.7" fill="#f2f2f2" stroke="#333" stroke-width="0.8"/>
<path d="M324.4,268.6 L330.2,271.8 L324.4,275.0" fill="none" stroke="#333" stroke-width="0.7"/>
<rect x="324.70" y="261.70" width="3.4" height="4.2" rx="0.3" fill="#a4b6d2" stroke="#33415a" stroke-width="0.85"/>
<circle cx="326.40" cy="263.80" r="1.1" fill="#f01020"/>
<rect x="324.70" y="277.70" width="3.4" height="4.2" rx="0.3" fill="#a4b6d2" stroke="#33415a" stroke-width="0.85"/>
<circle cx="326.40" cy="279.80" r="1.1" fill="#f01020"/>
<path d="M332.5,264.5 L335.5,266.3 L332.5,268 Z" fill="none" stroke="#4a6af0" stroke-width="0.7"/>
<path d="M289,256 L289,278.5" fill="none" stroke="#b8b8fa" stroke-width="1.2"/>
<path d="M286.5,262 L289,257 L291.5,262" fill="none" stroke="#b8b8fa" stroke-width="0.8"/>
<path d="M326.4,282.5 L326.4,296" fill="none" stroke="#b8b8fa" stroke-width="1.2"/>
<path d="M323.9,289 L326.4,294 L328.9,289" fill="none" stroke="#b8b8fa" stroke-width="0.8"/>
<rect x="190.9" y="276" width="22.799999999999983" height="36.30000000000001" fill="#f4f4f4" stroke="#a0a0a0" stroke-width="0.9"/>
<path d="M211.2,302.5 Q204.8,303 201.80,300.60 L200.77,300.27 L199.80,299.94 L198.94,299.60 L198.24,299.27 L197.73,298.94 L197.45,298.61 L197.41,298.27 L197.62,297.94 L198.05,297.61 L198.69,297.28 L199.50,296.94 L200.44,296.61 L201.45,296.28 L202.49,295.94 L203.48,295.61 L204.39,295.28 L205.15,294.95 L205.72,294.62 L206.08,294.28 L206.20,293.95 L206.08,293.62 L205.72,293.29 L205.15,292.95 L204.39,292.62 L203.48,292.29 L202.49,291.96 L201.45,291.62 L200.44,291.29 L199.50,290.96 L198.69,290.62 L198.05,290.29 L197.62,289.96 L197.41,289.63 L197.45,289.30 L197.73,288.96 L198.24,288.63 L198.94,288.30 L199.80,287.97 L200.77,287.63 L201.80,287.30 Q202.8,284.5 209.2,284.0" fill="none" stroke="#9a9610" stroke-width="2.3" stroke-linecap="round"/>
<path d="M206.2,279.5 L211.5,283.7 L205.7,287.3 Z" fill="#9a9610"/>
<path d="M192.4,284.5 L197.8,284.5 Q201.3,284.5 201.80,287.30 L202.83,287.63 L203.80,287.97 L204.66,288.30 L205.36,288.63 L205.87,288.96 L206.15,289.30 L206.19,289.63 L205.98,289.96 L205.55,290.29 L204.91,290.62 L204.10,290.96 L203.16,291.29 L202.15,291.62 L201.11,291.96 L200.12,292.29 L199.21,292.62 L198.45,292.95 L197.88,293.29 L197.52,293.62 L197.40,293.95 L197.52,294.28 L197.88,294.62 L198.45,294.95 L199.21,295.28 L200.12,295.61 L201.11,295.94 L202.15,296.28 L203.16,296.61 L204.10,296.94 L204.91,297.28 L205.55,297.61 L205.98,297.94 L206.19,298.27 L206.15,298.61 L205.87,298.94 L205.36,299.27 L204.66,299.60 L203.80,299.94 L202.83,300.27 L201.80,300.60 Q199.8,303.5 194.9,303" fill="none" stroke="#2a8a8a" stroke-width="2.3" stroke-linecap="round"/>
<path d="M197.4,299.4 L192.9,303 L197.4,306.6" fill="none" stroke="#2a8a8a" stroke-width="1.5"/>
<rect x="189.20" y="282.55" width="4.0" height="3.9" rx="0.3" fill="#a4b6d2" stroke="#33415a" stroke-width="0.85"/>
<circle cx="191.20" cy="284.50" r="1.1" fill="#f01020"/>
<rect x="189.20" y="301.05" width="4.0" height="3.9" rx="0.3" fill="#a4b6d2" stroke="#33415a" stroke-width="0.85"/>
<circle cx="191.20" cy="303.00" r="1.1" fill="#f01020"/>
<rect x="211.20" y="282.55" width="4.0" height="3.9" rx="0.3" fill="#a4b6d2" stroke="#33415a" stroke-width="0.85"/>
<circle cx="213.20" cy="284.50" r="1.1" fill="#f01020"/>
<rect x="211.20" y="301.05" width="4.0" height="3.9" rx="0.3" fill="#a4b6d2" stroke="#33415a" stroke-width="0.85"/>
<circle cx="213.20" cy="303.00" r="1.1" fill="#f01020"/>
<rect x="220.6" y="281.2" width="12.599999999999994" height="24.5" fill="#f8f8f8" stroke="#9aaec0" stroke-width="0.9"/>
<rect x="225.29999999999998" y="286.40" width="3.2" height="0.7" fill="#999"/>
<rect x="223.89999999999998" y="288.60" width="6" height="0.8" fill="#888"/>
<rect x="223.29999999999998" y="296.70" width="7.2" height="0.9" fill="#4a6ab0"/>
<rect x="224.29999999999998" y="298.50" width="5.2" height="0.8" fill="#5a7ac0"/>
<path d="M213.5,284.5 L221.5,283.5" fill="none" stroke="#b8b8fa" stroke-width="1.0"/>
<path d="M213.5,303 L221.5,303" fill="none" stroke="#b8b8fa" stroke-width="1.0"/>
<path d="M232.5,283.3 L284,283.3" fill="none" stroke="#b8b8fa" stroke-width="1.3"/>
<path d="M292.5,283.3 L413,283.3 L414,281.3 L417.5,281.3" fill="none" stroke="#b8b8fa" stroke-width="1.3"/>
<circle cx="288.2" cy="283.2" r="4.0" fill="#fafafa" stroke="#1888d0" stroke-width="1.8"/>
<path d="M279,280.5 L283.5,283.2 L279,286" fill="none" stroke="#b8b8fa" stroke-width="0.8"/>
<path d="M297.5,280.5 L293,283.2 L297.5,286" fill="none" stroke="#b8b8fa" stroke-width="0.8"/>
<path d="M232.5,303 L265.2,303 L265.2,300.6 L299,300.6" fill="none" stroke="#b8b8fa" stroke-width="1.3"/>
<path d="M240,300.5 L236.5,303 L240,305.5" fill="none" stroke="#b8b8fa" stroke-width="0.8"/>
<rect x="219.60" y="281.45" width="4.0" height="3.9" rx="0.3" fill="#a4b6d2" stroke="#33415a" stroke-width="0.85"/>
<circle cx="221.60" cy="283.40" r="1.1" fill="#f01020"/>
<rect x="230.40" y="281.45" width="4.0" height="3.9" rx="0.3" fill="#a4b6d2" stroke="#33415a" stroke-width="0.85"/>
<circle cx="232.40" cy="283.40" r="1.1" fill="#f01020"/>
<rect x="219.60" y="301.05" width="4.0" height="3.9" rx="0.3" fill="#a4b6d2" stroke="#33415a" stroke-width="0.85"/>
<circle cx="221.60" cy="303.00" r="1.1" fill="#f01020"/>
<rect x="230.40" y="301.05" width="4.0" height="3.9" rx="0.3" fill="#a4b6d2" stroke="#33415a" stroke-width="0.85"/>
<circle cx="232.40" cy="303.00" r="1.1" fill="#f01020"/>
<text x="261.2" y="295.2" font-size="6.6" fill="#4646ee" text-anchor="start" textLength="17.8" lengthAdjust="spacingAndGlyphs">2  AH2</text>
<path d="M261.2,296.30 L279.0,296.30" stroke="#4646ee" stroke-width="0.7"/>
<path d="M282.4,290.5 L285.4,292.5 L282.4,294.5 Z" fill="#fff" stroke="#4a4af0" stroke-width="0.9"/>
<path d="M285.4,292.5 L305.5,292.5 L305.5,295.5" fill="none" stroke="#666" stroke-width="0.8" stroke-dasharray="1,1"/>
<rect x="299" y="295.6" width="16" height="9.799999999999955" fill="#f8f8f8" stroke="#a8a8a8" stroke-width="0.8"/>
<path d="M300,300.5 L303.0,300.5 M311.0,300.5 L314,300.5" stroke="#f08080" stroke-width="1.2"/>
<path d="M303.7,297.9 L310.3,303.1 M303.7,303.1 L310.3,297.9 M303.7,297.9 L303.7,303.1 M310.3,297.9 L310.3,303.1 M305.4,293.6 L306.8,300.5" stroke="#222" stroke-width="1" fill="none" stroke-dasharray="0.9,0.7"/>
<circle cx="299.3" cy="300.5" r="1.4" fill="#f01020"/><circle cx="314.7" cy="300.5" r="1.4" fill="#f01020"/>
<circle cx="307.8" cy="296.6" r="1.5" fill="#b0b0f0" opacity="0.7"/><circle cx="307.8" cy="296.6" r="1.1" fill="#e01020"/>
<path d="M315.5,300.5 L322.5,300.5" fill="none" stroke="#b8b8fa" stroke-width="1.1"/>
<circle cx="326.9" cy="300.5" r="4.0" fill="#fafafa" stroke="#1888d0" stroke-width="1.8"/>
<path d="M331.2,300.5 L347,300.5" fill="none" stroke="#b8b8fa" stroke-width="1.1"/>
<path d="M337,298 L341,300.5 L337,303" fill="none" stroke="#b8b8fa" stroke-width="0.8"/>
<rect x="346.8" y="295.2" width="14.800000000000011" height="10.199999999999989" fill="#f8f8f8" stroke="#a8a8a8" stroke-width="0.8"/>
<path d="M347.8,300.29999999999995 L350.20000000000005,300.29999999999995 M358.20000000000005,300.29999999999995 L360.6,300.29999999999995" stroke="#f08080" stroke-width="1.2"/>
<path d="M350.90000000000003,297.69999999999993 L357.50000000000006,302.9 M350.90000000000003,302.9 L357.50000000000006,297.69999999999993 M350.90000000000003,297.69999999999993 L350.90000000000003,302.9 M357.50000000000006,297.69999999999993 L357.50000000000006,302.9 M352.6,293.2 L354.00000000000006,300.29999999999995" stroke="#222" stroke-width="1" fill="none" stroke-dasharray="0.9,0.7"/>
<circle cx="347.1" cy="300.29999999999995" r="1.4" fill="#f01020"/><circle cx="361.3" cy="300.29999999999995" r="1.4" fill="#f01020"/>
<circle cx="355.00000000000006" cy="296.2" r="1.5" fill="#b0b0f0" opacity="0.7"/><circle cx="355.00000000000006" cy="296.2" r="1.1" fill="#e01020"/>
<path d="M362,300.6 L417.5,300.6" fill="none" stroke="#b8b8fa" stroke-width="1.3"/>
<path d="M351,295 L351,290.5 L373.5,290.5 L373.5,316" fill="none" stroke="#aaa" stroke-width="0.8" stroke-dasharray="1,1.2"/>
<text x="317.3" y="313.3" font-size="6.6" fill="#4646ee" text-anchor="start" textLength="18.7" lengthAdjust="spacingAndGlyphs">1  HC2</text>
<path d="M317.3,314.40 L336.0,314.40" stroke="#4646ee" stroke-width="0.7"/>
<text x="317.3" y="323" font-size="6.6" fill="#4646ee" text-anchor="start" textLength="18.7" lengthAdjust="spacingAndGlyphs">4  AC2</text>
<path d="M317.3,324.10 L336.0,324.10" stroke="#4646ee" stroke-width="0.7"/>
<path d="M339.8,308.5 L342.8,310.5 L339.8,312.5 Z" fill="#fff" stroke="#4a4af0" stroke-width="0.9"/>
<path d="M339.8,318 L342.8,320 L339.8,322 Z" fill="#fff" stroke="#4a4af0" stroke-width="0.9"/>
<path d="M342.8,310.5 L346,310.5 L347,313 L352.3,315" fill="none" stroke="#444" stroke-width="0.8"/>
<path d="M342.8,320 L346,320 L347,322 L352.3,318" fill="none" stroke="#444" stroke-width="0.8"/>
<rect x="352.8" y="307.40000000000003" width="16.899999999999977" height="17.9" fill="#fbfbfb" stroke="#b4b4b4" stroke-width="0.9"/>
<path d="M364.7,308.3 L353.5,308.3 L353.5,324.40000000000003 L364.7,324.40000000000003" fill="none" stroke="#9090ff" stroke-width="2.2" stroke-linecap="round" stroke-linejoin="round"/>
<path d="M364.2,308.5 L353.7,308.5 L353.7,324.20000000000005 L364.2,324.20000000000005" fill="none" stroke="#3434e8" stroke-width="0.5" stroke-dasharray="0.8,0.6"/>
<rect x="355.95000000000005" y="310.75" width="10.8" height="11.3" rx="4" fill="#f7f3b4" stroke="#b0ac78" stroke-width="0.7"/>
<text x="361.35" y="317.95000000000005" font-size="4" fill="#3030d0" text-anchor="middle" font-weight="bold" textLength="8" lengthAdjust="spacingAndGlyphs">MAX</text>
<circle cx="353.90000000000003" cy="316.35" r="1.1" fill="#f01020"/>
<path d="M367.4,314.35 L370.4,316.35 L367.4,318.35 Z" fill="#fff" stroke="#5a5af0" stroke-width="0.9"/>
<rect x="188.8" y="336.8" width="23.0" height="36.5" fill="#f4f4f4" stroke="#a0a0a0" stroke-width="0.9"/>
<path d="M209.3,363.3 Q202.8,363.8 199.80,361.40 L198.77,361.07 L197.80,360.73 L196.94,360.40 L196.24,360.06 L195.73,359.73 L195.45,359.39 L195.41,359.06 L195.62,358.72 L196.05,358.39 L196.69,358.05 L197.50,357.72 L198.44,357.38 L199.45,357.05 L200.49,356.71 L201.48,356.38 L202.39,356.04 L203.15,355.71 L203.72,355.37 L204.08,355.04 L204.20,354.70 L204.08,354.37 L203.72,354.03 L203.15,353.69 L202.39,353.36 L201.48,353.03 L200.49,352.69 L199.45,352.36 L198.44,352.02 L197.50,351.69 L196.69,351.35 L196.05,351.01 L195.62,350.68 L195.41,350.35 L195.45,350.01 L195.73,349.68 L196.24,349.34 L196.94,349.00 L197.80,348.67 L198.77,348.33 L199.80,348.00 Q200.8,345.2 207.3,344.7" fill="none" stroke="#9a9610" stroke-width="2.3" stroke-linecap="round"/>
<path d="M204.3,340.2 L209.60000000000002,344.4 L203.8,348.0 Z" fill="#9a9610"/>
<path d="M190.3,345.2 L195.8,345.2 Q199.3,345.2 199.80,348.00 L200.83,348.33 L201.80,348.67 L202.66,349.00 L203.36,349.34 L203.87,349.68 L204.15,350.01 L204.19,350.35 L203.98,350.68 L203.55,351.01 L202.91,351.35 L202.10,351.69 L201.16,352.02 L200.15,352.36 L199.11,352.69 L198.12,353.03 L197.21,353.36 L196.45,353.69 L195.88,354.03 L195.52,354.37 L195.40,354.70 L195.52,355.04 L195.88,355.37 L196.45,355.71 L197.21,356.04 L198.12,356.38 L199.11,356.71 L200.15,357.05 L201.16,357.38 L202.10,357.72 L202.91,358.05 L203.55,358.39 L203.98,358.72 L204.19,359.06 L204.15,359.39 L203.87,359.73 L203.36,360.06 L202.66,360.40 L201.80,360.73 L200.83,361.07 L199.80,361.40 Q197.8,364.3 192.8,363.8" fill="none" stroke="#2a8a8a" stroke-width="2.3" stroke-linecap="round"/>
<path d="M195.3,360.2 L190.8,363.8 L195.3,367.40000000000003" fill="none" stroke="#2a8a8a" stroke-width="1.5"/>
<rect x="187.10" y="343.25" width="4.0" height="3.9" rx="0.3" fill="#a4b6d2" stroke="#33415a" stroke-width="0.85"/>
<circle cx="189.10" cy="345.20" r="1.1" fill="#f01020"/>
<rect x="187.10" y="361.85" width="4.0" height="3.9" rx="0.3" fill="#a4b6d2" stroke="#33415a" stroke-width="0.85"/>
<circle cx="189.10" cy="363.80" r="1.1" fill="#f01020"/>
<rect x="209.30" y="343.25" width="4.0" height="3.9" rx="0.3" fill="#a4b6d2" stroke="#33415a" stroke-width="0.85"/>
<circle cx="211.30" cy="345.20" r="1.1" fill="#f01020"/>
<rect x="209.30" y="361.85" width="4.0" height="3.9" rx="0.3" fill="#a4b6d2" stroke="#33415a" stroke-width="0.85"/>
<circle cx="211.30" cy="363.80" r="1.1" fill="#f01020"/>
<rect x="217.7" y="341.6" width="14.300000000000011" height="25.899999999999977" fill="#f8f8f8" stroke="#9aaec0" stroke-width="0.9"/>
<rect x="223.25" y="346.80" width="3.2" height="0.7" fill="#999"/>
<rect x="221.85" y="349.00" width="6" height="0.8" fill="#888"/>
<rect x="221.25" y="358.50" width="7.2" height="0.9" fill="#4a6ab0"/>
<rect x="222.25" y="360.30" width="5.2" height="0.8" fill="#5a7ac0"/>
<path d="M211.5,345.2 L219.5,344" fill="none" stroke="#b8b8fa" stroke-width="1.0"/>
<path d="M211.5,363.8 L219.5,363.6" fill="none" stroke="#b8b8fa" stroke-width="1.0"/>
<path d="M230.5,344 L248.5,344.5" fill="none" stroke="#b8b8fa" stroke-width="1.2"/>
<rect x="217.50" y="342.05" width="4.0" height="3.9" rx="0.3" fill="#a4b6d2" stroke="#33415a" stroke-width="0.85"/>
<circle cx="219.50" cy="344.00" r="1.1" fill="#f01020"/>
<rect x="228.50" y="342.05" width="4.0" height="3.9" rx="0.3" fill="#a4b6d2" stroke="#33415a" stroke-width="0.85"/>
<circle cx="230.50" cy="344.00" r="1.1" fill="#f01020"/>
<rect x="217.50" y="361.55" width="4.0" height="3.9" rx="0.3" fill="#a4b6d2" stroke="#33415a" stroke-width="0.85"/>
<circle cx="219.50" cy="363.50" r="1.1" fill="#f01020"/>
<rect x="228.50" y="361.55" width="4.0" height="3.9" rx="0.3" fill="#a4b6d2" stroke="#33415a" stroke-width="0.85"/>
<circle cx="230.50" cy="363.50" r="1.1" fill="#f01020"/>
<path d="M230.5,363.6 L407,363.6 L407,310.4 L417.5,310.4" fill="none" stroke="#b8b8fa" stroke-width="1.3"/>
<path d="M237.5,361 L234,363.6 L237.5,366" fill="none" stroke="#b8b8fa" stroke-width="0.8"/>
<text x="248.4" y="325.4" font-size="6.6" fill="#4646ee" text-anchor="start" textLength="14.2" lengthAdjust="spacingAndGlyphs">3  FC</text>
<path d="M248.4,326.50 L262.6,326.50" stroke="#4646ee" stroke-width="0.7"/>
<rect x="232.9" y="326.4" width="14.699999999999989" height="9.700000000000045" rx="0.6" fill="#fdfdfd" stroke="#a0a0a0" stroke-width="0.9"/>
<text x="235.9" y="333.8" font-size="7" fill="#902020">1</text>
<path d="M248.4,329.5 L251.4,331.5 L248.4,333.5 Z" fill="#fff" stroke="#4a4af0" stroke-width="0.9"/>
<path d="M251.4,331.5 L270,331.5" fill="none" stroke="#555" stroke-width="0.7" stroke-dasharray="1,1"/>
<rect x="248.4" y="339.4" width="16.799999999999983" height="10.200000000000045" fill="#f6f6f6" stroke="#a8b4c0" stroke-width="0.8"/>
<circle cx="256.7" cy="344.5" r="3.7" fill="#f2f2f2" stroke="#333" stroke-width="0.8"/>
<path d="M254.7,341.3 L260.5,344.5 L254.7,347.7" fill="none" stroke="#333" stroke-width="0.7"/>
<rect x="247.00" y="342.55" width="4.0" height="3.9" rx="0.3" fill="#a4b6d2" stroke="#33415a" stroke-width="0.85"/>
<circle cx="249.00" cy="344.50" r="1.1" fill="#f01020"/>
<rect x="262.50" y="342.55" width="4.0" height="3.9" rx="0.3" fill="#a4b6d2" stroke="#33415a" stroke-width="0.85"/>
<circle cx="264.50" cy="344.50" r="1.1" fill="#f01020"/>
<circle cx="256.6" cy="334.6" r="1.8" fill="#fff" stroke="#333" stroke-width="0.7"/>
<path d="M254.40000000000003,335.2 L256.6,338.3 L258.8,335.2" fill="none" stroke="#3a3af0" stroke-width="1"/>
<circle cx="256.6" cy="338.5" r="1.3" fill="#f01020"/>
<path d="M249,339 L251,336 L253,339 Z" fill="none" stroke="#4a6af0" stroke-width="0.7"/>
<path d="M265,344.6 L277,344.6" fill="none" stroke="#b8b8fa" stroke-width="1.1"/>
<rect x="277.3" y="336.9" width="16.099999999999966" height="16.0" fill="#fbfbfb" stroke="#a8a8a8" stroke-width="1"/>
<path d="M278.1,344.9 L279.85,344.9 M290.85,344.9 L292.59999999999997,344.9" stroke="#f06060" stroke-width="2"/>
<path d="M282.3,336.9 L282.3,339.4 L285.35,344.9" fill="none" stroke="#666" stroke-width="0.6"/>
<path d="M279.65000000000003,341.2 L291.05,348.59999999999997 L291.05,341.2 L279.65000000000003,348.59999999999997 Z" fill="#fff" stroke="#111" stroke-width="1.4" stroke-linejoin="round"/>
<circle cx="285.35" cy="344.9" r="1" fill="#111"/>
<rect x="275.30" y="342.65" width="4.0" height="3.9" rx="0.3" fill="#a4b6d2" stroke="#33415a" stroke-width="0.85"/>
<circle cx="277.30" cy="344.60" r="1.1" fill="#f01020"/>
<rect x="291.40" y="342.65" width="4.0" height="3.9" rx="0.3" fill="#a4b6d2" stroke="#33415a" stroke-width="0.85"/>
<circle cx="293.40" cy="344.60" r="1.1" fill="#f01020"/>
<path d="M280.1,333.7 L282.3,336.8 L284.5,333.7" fill="none" stroke="#3a3af0" stroke-width="1"/>
<circle cx="282.3" cy="337.0" r="1.3" fill="#f01020"/>
<path d="M272.3,320.9 L275.3,322.9 L272.3,324.9 Z" fill="#fff" stroke="#4a4af0" stroke-width="0.9"/>
<path d="M275.3,322.9 L282.5,322.9 L282.5,332" fill="none" stroke="#aaa" stroke-width="0.8" stroke-dasharray="1,1.2"/>
<path d="M294,344.8 L412.9,344.8 L412.9,330.4 L417.5,330.4" fill="none" stroke="#b8b8fa" stroke-width="1.3"/>
<rect x="415.1" y="278.8" width="15.399999999999977" height="25.099999999999966" fill="#f8f8f8" stroke="#9aaec0" stroke-width="0.9"/>
<rect x="421.2" y="284.00" width="3.2" height="0.7" fill="#999"/>
<rect x="419.8" y="286.20" width="6" height="0.8" fill="#888"/>
<rect x="419.2" y="294.90" width="7.2" height="0.9" fill="#4a6ab0"/>
<rect x="420.2" y="296.70" width="5.2" height="0.8" fill="#5a7ac0"/>
<rect x="415.50" y="279.35" width="4.0" height="3.9" rx="0.3" fill="#a4b6d2" stroke="#33415a" stroke-width="0.85"/>
<circle cx="417.50" cy="281.30" r="1.1" fill="#f01020"/>
<rect x="426.50" y="279.35" width="4.0" height="3.9" rx="0.3" fill="#a4b6d2" stroke="#33415a" stroke-width="0.85"/>
<circle cx="428.50" cy="281.30" r="1.1" fill="#f01020"/>
<rect x="415.50" y="298.75" width="4.0" height="3.9" rx="0.3" fill="#a4b6d2" stroke="#33415a" stroke-width="0.85"/>
<circle cx="417.50" cy="300.70" r="1.1" fill="#f01020"/>
<rect x="426.50" y="298.75" width="4.0" height="3.9" rx="0.3" fill="#a4b6d2" stroke="#33415a" stroke-width="0.85"/>
<circle cx="428.50" cy="300.70" r="1.1" fill="#f01020"/>
<rect x="415.1" y="308.6" width="15.399999999999977" height="25.099999999999966" fill="#f8f8f8" stroke="#9aaec0" stroke-width="0.9"/>
<rect x="421.2" y="313.80" width="3.2" height="0.7" fill="#999"/>
<rect x="419.8" y="316.00" width="6" height="0.8" fill="#888"/>
<rect x="419.2" y="324.70" width="7.2" height="0.9" fill="#4a6ab0"/>
<rect x="420.2" y="326.50" width="5.2" height="0.8" fill="#5a7ac0"/>
<rect x="415.50" y="308.35" width="4.0" height="3.9" rx="0.3" fill="#a4b6d2" stroke="#33415a" stroke-width="0.85"/>
<circle cx="417.50" cy="310.30" r="1.1" fill="#f01020"/>
<rect x="426.50" y="308.35" width="4.0" height="3.9" rx="0.3" fill="#a4b6d2" stroke="#33415a" stroke-width="0.85"/>
<circle cx="428.50" cy="310.30" r="1.1" fill="#f01020"/>
<rect x="415.50" y="328.45" width="4.0" height="3.9" rx="0.3" fill="#a4b6d2" stroke="#33415a" stroke-width="0.85"/>
<circle cx="417.50" cy="330.40" r="1.1" fill="#f01020"/>
<rect x="426.50" y="328.45" width="4.0" height="3.9" rx="0.3" fill="#a4b6d2" stroke="#33415a" stroke-width="0.85"/>
<circle cx="428.50" cy="330.40" r="1.1" fill="#f01020"/>
<path d="M430,281.3 L436.9,281.3 L436.9,270 L451,270" fill="none" stroke="#b8b8fa" stroke-width="1.2"/>
<path d="M430,310.3 L439.4,310.3 L439.4,272.6 L451,272.6" fill="none" stroke="#b8b8fa" stroke-width="1.2"/>
<path d="M430,300.7 L442.8,300.7 L442.8,328.7 L451,328.7" fill="none" stroke="#b8b8fa" stroke-width="1.2"/>
<path d="M430,330.4 L439.2,330.4 L439.2,334.8" fill="none" stroke="#b8b8fa" stroke-width="1.2"/>
<defs><linearGradient id="ct" x1="0" x2="1" y1="0" y2="0"><stop offset="0" stop-color="#5244c0"/><stop offset="0.22" stop-color="#5e50d6"/><stop offset="0.62" stop-color="#7668f4"/><stop offset="0.86" stop-color="#6658e0"/><stop offset="1" stop-color="#4a3cb0"/></linearGradient></defs>
<rect x="450.9" y="268.5" width="33.1" height="63.3" fill="url(#ct)" stroke="#2a2a50" stroke-width="0.9"/>
<rect x="455.6" y="273" width="15.0" height="16.5" fill="#dcdfd8"/>
<path d="M459.0,278.6 Q459.0,274.90000000000003 463.04999999999995,274.90000000000003 Q467.09999999999997,274.90000000000003 467.09999999999997,278.6 Z" fill="#b8b8b8"/>
<path d="M459.4,278.6 Q459.4,275.3 463.04999999999995,275.3 Q466.7,275.3 466.7,278.6 Z" fill="#ffffff"/>
<path d="M459.4,278.6 L466.7,278.6 L466.7,284.3 Q466.7,285.8 465.2,285.8 L460.9,285.8 Q459.4,285.8 459.4,284.3 Z" fill="#6c5ce8"/>
<rect x="455.6" y="281.9" width="4.2999999999999545" height="2.900000000000034" fill="#6c5ce8"/>
<text x="452.6" y="338.2" font-size="6.6" fill="#444" textLength="27" lengthAdjust="spacingAndGlyphs">Cold Tank</text>
<rect x="467.7" y="252.5" width="18.900000000000034" height="9.0" rx="0.6" fill="#fdfdfd" stroke="#a0a0a0" stroke-width="0.9"/>
<text x="470.7" y="259.2" font-size="7" fill="#555">14</text>
<path d="M487,255 L490,257 L487,259 Z" fill="#fff" stroke="#4a4af0" stroke-width="0.9"/>
<path d="M490,257 L492,257 L492,262 L484,262 L483.5,267" fill="none" stroke="#555" stroke-width="0.7"/>
<rect x="431.3" y="334.8" width="15.300000000000011" height="8.399999999999977" rx="0.6" fill="#fdfdfd" stroke="#a0a0a0" stroke-width="0.9"/>
<text x="434.3" y="340.9" font-size="7" fill="#555">50</text>
<path d="M447,337 L450,339 L447,341 Z" fill="#fff" stroke="#4a4af0" stroke-width="0.9"/>
<path d="M450,339 L451.5,339 L451.5,333" fill="none" stroke="#555" stroke-width="0.7"/>
<path d="M484,271.3 L497.8,271.3 L497.8,325.5 L520,325.5" fill="none" stroke="#d4b4f0" stroke-width="1.2"/>
<path d="M484,328.7 L488,328.7 L488,286 L521.6,286" fill="none" stroke="#c4c4f8" stroke-width="1.2"/>
<rect x="521.6" y="271.8" width="64.2" height="59.7" fill="#f4f4f4" stroke="#b8c4cc" stroke-width="1.2"/>
<text x="525.7" y="289.5" font-size="10.6" fill="#8a8a8a" textLength="55.3" lengthAdjust="spacingAndGlyphs">ICE-MACRO</text>
<text x="530" y="317" font-size="5.6" fill="#3a5aa8" textLength="46.8" lengthAdjust="spacingAndGlyphs">ColdConsumer_PRN</text>
<rect x="519.70" y="276.75" width="3.6" height="4.5" rx="0.3" fill="#a4b6d2" stroke="#33415a" stroke-width="0.85"/>
<circle cx="521.50" cy="279.00" r="1.1" fill="#f01020"/>
<rect x="519.70" y="323.45" width="3.6" height="4.5" rx="0.3" fill="#a4b6d2" stroke="#33415a" stroke-width="0.85"/>
<circle cx="521.50" cy="325.70" r="1.1" fill="#f01020"/>
<path d="M524,270 L520,272 L524,274 Z" fill="none" stroke="#4a6af0" stroke-width="0.7"/>
<rect x="433" y="110.5" width="11.899999999999977" height="46.599999999999994" fill="#f8f8f8" stroke="#9aaec0" stroke-width="0.9"/>
<rect x="437.34999999999997" y="119.30" width="3.2" height="0.7" fill="#999"/>
<rect x="435.95" y="121.50" width="6" height="0.8" fill="#888"/>
<rect x="435.34999999999997" y="142.00" width="7.2" height="0.9" fill="#4a6ab0"/>
<rect x="436.34999999999997" y="143.80" width="5.2" height="0.8" fill="#5a7ac0"/>
<rect x="431.50" y="111.55" width="4.0" height="3.9" rx="0.3" fill="#a4b6d2" stroke="#33415a" stroke-width="0.85"/>
<circle cx="433.50" cy="113.50" r="1.1" fill="#f01020"/>
<rect x="442.00" y="111.55" width="4.0" height="3.9" rx="0.3" fill="#a4b6d2" stroke="#33415a" stroke-width="0.85"/>
<circle cx="444.00" cy="113.50" r="1.1" fill="#f01020"/>
<rect x="431.50" y="148.55" width="4.0" height="3.9" rx="0.3" fill="#a4b6d2" stroke="#33415a" stroke-width="0.85"/>
<circle cx="433.50" cy="150.50" r="1.1" fill="#f01020"/>
<rect x="442.00" y="148.55" width="4.0" height="3.9" rx="0.3" fill="#a4b6d2" stroke="#33415a" stroke-width="0.85"/>
<circle cx="444.00" cy="150.50" r="1.1" fill="#f01020"/>
<path d="M444,113.5 L447.3,113.5 L447.3,108.5 L449.5,108.5" fill="none" stroke="#f3bccd" stroke-width="1.0"/>
<path d="M444,150.5 L447.3,152 L447.3,160 L449.5,160" fill="none" stroke="#c8b8f4" stroke-width="1.0"/>
<defs><linearGradient id="htv" x1="0" x2="0" y1="0" y2="1"><stop offset="0" stop-color="#cc5282"/><stop offset="0.5" stop-color="#c05896"/><stop offset="1" stop-color="#9862c8"/></linearGradient>
<linearGradient id="hth" x1="0" x2="1" y1="0" y2="0"><stop offset="0" stop-color="#000" stop-opacity="0.12"/><stop offset="0.35" stop-color="#000" stop-opacity="0"/><stop offset="0.7" stop-color="#000" stop-opacity="0"/><stop offset="1" stop-color="#000" stop-opacity="0.18"/></linearGradient></defs>
<rect x="449.3" y="107.3" width="29.9" height="55.4" fill="url(#htv)"/>
<rect x="449.3" y="107.3" width="29.9" height="55.4" fill="url(#hth)" stroke="#6a6a6a" stroke-width="0.9"/>
<rect x="453.9" y="111.8" width="13.200000000000045" height="14.200000000000003" fill="#dcdfd8"/>
<path d="M456.8,116.8 Q456.8,112.6 460.5,112.6 Q464.2,112.6 464.2,116.8 Z" fill="#b8b8b8"/>
<path d="M457.2,116.8 Q457.2,113.0 460.5,113.0 Q463.8,113.0 463.8,116.8 Z" fill="#ffffff"/>
<path d="M457.2,116.8 L463.8,116.8 L463.8,121.3 Q463.8,122.8 462.3,122.8 L458.7,122.8 Q457.2,122.8 457.2,121.3 Z" fill="#cc5a8e"/>
<rect x="453.9" y="120.2" width="3.8000000000000114" height="2.0999999999999943" fill="#cc5a8e"/>
<text x="452.6" y="168.8" font-size="6.6" fill="#444" textLength="25" lengthAdjust="spacingAndGlyphs">Heat Tank</text>
<rect x="468.4" y="89.4" width="17.30000000000001" height="9.099999999999994" rx="0.6" fill="#fdfdfd" stroke="#a0a0a0" stroke-width="0.9"/>
<text x="471.4" y="96.2" font-size="7" fill="#555">40</text>
<path d="M486.2,92 L489.2,94 L486.2,96 Z" fill="#fff" stroke="#4a4af0" stroke-width="0.9"/>
<rect x="430.6" y="165.6" width="13.299999999999955" height="8.599999999999994" rx="0.6" fill="#e4f2fb" stroke="#a0a0a0" stroke-width="0.9"/>
<text x="432.5" y="171.89999999999998" font-size="7" fill="#3a5a8a" textLength="8.4" lengthAdjust="spacingAndGlyphs">0.0</text>
<path d="M444.4,168 L447.4,170 L444.4,172 Z" fill="#fff" stroke="#4a4af0" stroke-width="0.9"/>
<path d="M447.4,170 L450.6,170 L450.6,164.5" fill="none" stroke="#555" stroke-width="0.7"/>
<path d="M479.5,109.2 L510,109.2 Q513.5,109.2 513.5,112.5 L513.5,115" fill="none" stroke="#86207e" stroke-width="1.8"/>
<path d="M479.5,159.6 L510,159.6 Q513.5,159.6 513.5,161 L515,161.5" fill="none" stroke="#86207e" stroke-width="1.8"/>
<path d="M480,109.2 L482,107.5 L484,109.2 L482,111 Z" fill="#fff" stroke="#555" stroke-width="0.5"/>
<rect x="516" y="107.1" width="64.2" height="60.9" fill="#f4f4f4" stroke="#b8c4cc" stroke-width="1.2"/>
<text x="520.4" y="125.5" font-size="10.4" fill="#8a8a8a" textLength="55.4" lengthAdjust="spacingAndGlyphs">ICE-MACRO</text>
<text x="524.2" y="153" font-size="5.6" fill="#3a5aa8" textLength="48.1" lengthAdjust="spacingAndGlyphs">HeatConsumer_PRN</text>
<rect x="514.20" y="112.75" width="3.6" height="4.5" rx="0.3" fill="#a4b6d2" stroke="#33415a" stroke-width="0.85"/>
<circle cx="516.00" cy="115.00" r="1.1" fill="#f01020"/>
<rect x="514.20" y="159.15" width="3.6" height="4.5" rx="0.3" fill="#a4b6d2" stroke="#33415a" stroke-width="0.85"/>
<circle cx="516.00" cy="161.40" r="1.1" fill="#f01020"/>
<path d="M518.5,105.5 L514.5,107.5 L518.5,109.5 Z" fill="none" stroke="#4a6af0" stroke-width="0.7"/>
<rect x="123.4" y="404.3" width="304.4" height="71.5" fill="#f4f4f4" stroke="#6a8aa0" stroke-width="1.3"/>
<text x="275.6" y="428.3" font-size="19.5" fill="#808080" text-anchor="middle">ICE-MACRO</text>
<text x="215.4" y="465" font-size="26.2" fill="#0e4088" stroke="#0e4088" stroke-width="0.25" textLength="121.6" lengthAdjust="spacingAndGlyphs">CONTROL</text>
<rect x="443.6" y="405.7" width="89" height="80" fill="#f4f4f4" stroke="#b8c4cc" stroke-width="1.2"/>
<text x="487.3" y="427.5" font-size="14.3" fill="#8a8a8a" text-anchor="middle">ICE-MACRO</text>
<text x="449.9" y="460.3" font-size="11" fill="#2c5a9c" textLength="76.4" lengthAdjust="spacingAndGlyphs">Postprocessing</text>
</svg></body></html>
